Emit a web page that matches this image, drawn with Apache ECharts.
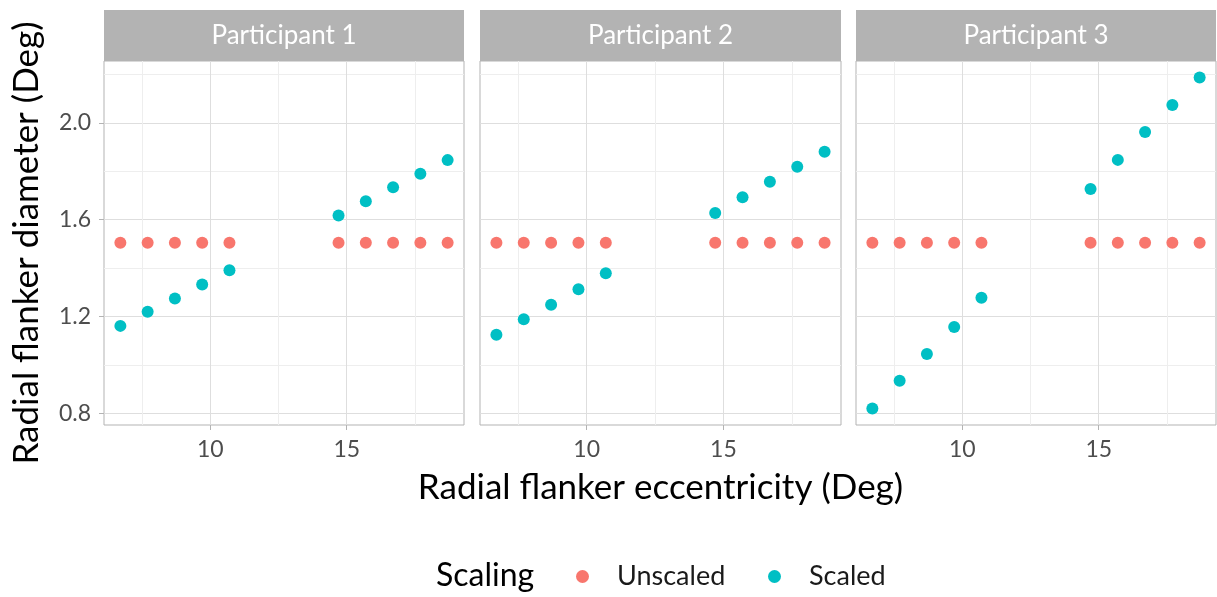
<!DOCTYPE html>
<html><head><meta charset="utf-8">
<script src="https://cdn.jsdelivr.net/npm/echarts@6/dist/echarts.min.js"></script>
<style>html,body{margin:0;padding:0;background:#fff}#c{width:1217px;height:597px}</style>
</head><body><div id="c"></div>
<script>
// ---- data ----
const panels = ['Participant 1', 'Participant 2', 'Participant 3'];
const eccentricity = [6.7, 7.7, 8.7, 9.7, 10.7, 14.7, 15.7, 16.7, 17.7, 18.7];
const p1Unscaled = [1.505, 1.505, 1.505, 1.505, 1.505, 1.505, 1.505, 1.505, 1.505, 1.505];
const p2Unscaled = [1.505, 1.505, 1.505, 1.505, 1.505, 1.505, 1.505, 1.505, 1.505, 1.505];
const p3Unscaled = [1.505, 1.505, 1.505, 1.505, 1.505, 1.505, 1.505, 1.505, 1.505, 1.505];
const p1Scaled = [1.162, 1.220, 1.275, 1.333, 1.392, 1.617, 1.676, 1.734, 1.790, 1.846];
const p2Scaled = [1.125, 1.189, 1.249, 1.313, 1.379, 1.628, 1.693, 1.757, 1.819, 1.881];
const p3Scaled = [0.821, 0.936, 1.046, 1.157, 1.278, 1.727, 1.847, 1.962, 2.073, 2.187];
const xTicks = [10, 15];
const xMinorTicks = [7.5, 12.5, 17.5];
const yTicks = [0.8, 1.2, 1.6, 2.0];
const yMinorTicks = [1.0, 1.4, 1.8, 2.2];
const seriesNames = ['Unscaled', 'Scaled'];
const colors = ['#F8766D', '#00BFC4'];
const legendTitle = 'Scaling';
const xTitle = 'Radial flanker eccentricity (Deg)';
const yTitle = 'Radial flanker diameter (Deg)';

// ---- layout ----
const FONT = 'Lato';
const unscaledSets = [p1Unscaled, p2Unscaled, p3Unscaled];
const scaledSets = [p1Scaled, p2Scaled, p3Scaled];
const gridLefts = [104, 480, 856];
const gridWidths = [360, 361, 360];
const gridTop = 61, gridHeight = 364;
const xMin = 6.1, xMax = 19.3, yMin = 0.753, yMax = 2.255;

const grids = [], xAxes = [], yAxes = [], series = [], graphics = [];
panels.forEach((p, i) => {
  grids.push({left: gridLefts[i], top: gridTop, width: gridWidths[i], height: gridHeight,
    show: true, borderColor: '#B3B3B3', borderWidth: 1, backgroundColor: 'transparent', containLabel: false});
  xAxes.push({type: 'value', gridIndex: i, min: xMin, max: xMax,
    axisLine: {show: false},
    axisTick: {show: true, customValues: xTicks, length: 5, lineStyle: {color: '#B3B3B3', width: 1}},
    axisLabel: {show: true, customValues: xTicks, color: '#4D4D4D', fontSize: 23, fontFamily: FONT, margin: 13},
    splitLine: {show: true, lineStyle: {color: '#DEDEDE', width: 1}},
    name: i === 1 ? xTitle : '', nameLocation: 'middle', nameGap: 45,
    nameTextStyle: {color: '#000', fontSize: 35, fontFamily: FONT}
  });
  xAxes.push({type: 'value', gridIndex: i, min: xMin, max: xMax,
    axisLine: {show: false}, axisLabel: {show: false},
    axisTick: {show: false, customValues: xMinorTicks},
    splitLine: {show: true, lineStyle: {color: '#EEEEEE', width: 1}}
  });
  yAxes.push({type: 'value', gridIndex: i, min: yMin, max: yMax,
    axisLine: {show: false},
    axisTick: {show: i === 0, customValues: yTicks, length: 5, lineStyle: {color: '#B3B3B3', width: 1}},
    axisLabel: {show: i === 0, customValues: yTicks, color: '#4D4D4D', fontSize: 23, fontFamily: FONT, margin: 13,
      formatter: v => v.toFixed(1)},
    splitLine: {show: true, lineStyle: {color: '#DEDEDE', width: 1}},
    name: i === 0 ? yTitle : '', nameLocation: 'middle', nameGap: 60, nameRotate: 90,
    nameTextStyle: {color: '#000', fontSize: 35, fontFamily: FONT}
  });
  yAxes.push({type: 'value', gridIndex: i, min: yMin, max: yMax,
    axisLine: {show: false}, axisLabel: {show: false},
    axisTick: {show: false, customValues: yMinorTicks},
    splitLine: {show: true, lineStyle: {color: '#EEEEEE', width: 1}}
  });
  [unscaledSets[i], scaledSets[i]].forEach((arr, k) => {
    series.push({type: 'scatter', name: seriesNames[k], xAxisIndex: 2 * i, yAxisIndex: 2 * i,
      symbol: 'circle', symbolSize: 12, itemStyle: {color: colors[k], opacity: 1},
      data: eccentricity.map((x, j) => [x, arr[j]]), z: 3 + k, animation: false});
  });
  graphics.push({type: 'rect', shape: {x: gridLefts[i], y: 10, width: gridWidths[i], height: 51},
    style: {fill: '#B3B3B3'}, z: 10});
  graphics.push({type: 'text', x: gridLefts[i] + gridWidths[i] / 2, y: 36, z: 11,
    style: {text: p, fill: '#fff', fontSize: 26, fontFamily: FONT, align: 'center', verticalAlign: 'middle'}});
});
graphics.push({type: 'text', x: 436, y: 576, z: 11,
  style: {text: legendTitle, fill: '#000', fontSize: 32, fontFamily: FONT, align: 'left', verticalAlign: 'middle'}});

const legendLefts = [571, 763];
const legends = seriesNames.map((n, k) => ({
  data: [n], left: legendLefts[k], top: 558, orient: 'horizontal',
  icon: 'circle', itemWidth: 13, itemHeight: 13,
  textStyle: {fontSize: 27, fontFamily: FONT, color: '#1a1a1a', padding: [0, 0, 0, 23]},
  selectedMode: false
}));

const chart = echarts.init(document.getElementById('c'), null, {renderer: 'canvas'});
chart.setOption({
  animation: false,
  backgroundColor: '#fff',
  grid: grids, xAxis: xAxes, yAxis: yAxes, series: series,
  legend: legends,
  graphic: graphics
});
</script></body></html>
